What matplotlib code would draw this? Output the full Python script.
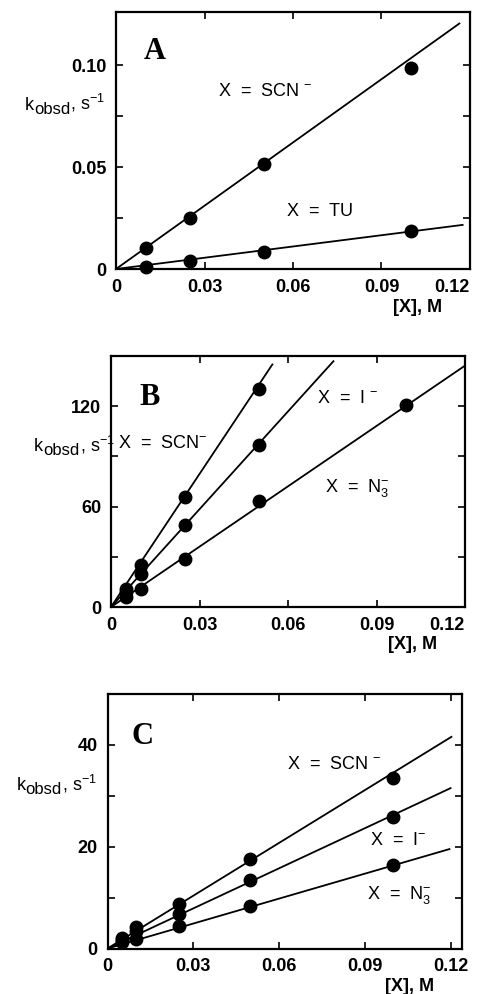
import numpy as np
import matplotlib
matplotlib.use("Agg")
import matplotlib.pyplot as plt

plt.rcParams["font.family"] = ["Liberation Sans", "DejaVu Sans"]
plt.rcParams["mathtext.fontset"] = "custom"
plt.rcParams["mathtext.rm"] = "Liberation Sans"
plt.rcParams["mathtext.it"] = "Liberation Sans"
plt.rcParams["mathtext.bf"] = "Liberation Sans:bold"
plt.rcParams["mathtext.default"] = "rm"

# panel A: SCN- and thiourea
xA = [0.01, 0.025, 0.05, 0.10]
scnA = [0.0104, 0.0248, 0.0516, 0.0987]
tuA = [0.0011, 0.0039, 0.0085, 0.0186]
fitA = {"scn": (1.034, 0.1164), "tu": (0.184, 0.1175)}   # slope, end of line

# panel B
xB = [0.005, 0.01, 0.025, 0.05]
scnB = [11, 25, 66, 130]
iB = [9, 20, 49, 97]
xB_n3 = [0.005, 0.01, 0.025, 0.05, 0.10]
n3B = [6, 11, 28.5, 63.5, 120.5]
fitB = {"scn": (2650, 0.0547), "i": (1948, 0.0754), "n3": (1202, 0.121)}

# panel C
xC = [0.005, 0.01, 0.025, 0.05, 0.10]
scnC = [2.1, 4.3, 8.8, 17.6, 33.4]
iC = [1.7, 3.4, 6.7, 13.4, 25.8]
n3C = [1.2, 1.8, 4.5, 8.4, 16.4]
fitC = {"scn": (345, 0.1203), "i": (262, 0.120), "n3": (163, 0.1196)}

xticks = [0, 0.03, 0.06, 0.09, 0.12]
xticklabels = ["0", "0.03", "0.06", "0.09", "0.12"]

fig = plt.figure(figsize=(4.79, 9.94), dpi=100)
W, H = 479, 994
renderer = fig.canvas.get_renderer()


def make_ax(left, right, top, bottom):
    return fig.add_axes([left / W, 1 - bottom / H, (right - left) / W, (bottom - top) / H])


def kobsd_label(ax, x, y):
    # k + lowered "obsd" (almost full size) + ", s^-1", right aligned at x
    tail = ax.annotate(r", s$^{-1}$", xy=(x, y), xycoords="axes fraction",
                       fontsize=13, ha="right", va="baseline")
    w1 = tail.get_window_extent(renderer).width
    sub = ax.annotate("obsd", xy=(x, y), xycoords="axes fraction",
                      xytext=(-w1, -4), textcoords="offset pixels",
                      fontsize=12, ha="right", va="baseline")
    w2 = sub.get_window_extent(renderer).width
    ax.annotate("k", xy=(x, y), xycoords="axes fraction",
                xytext=(-w1 - w2, 0), textcoords="offset pixels",
                fontsize=13, ha="right", va="baseline")


def style(ax, xmax, ymax, yticks, yticklabels, letter, letter_pos, ylab_x, last_right):
    ax.set_xlim(0, xmax)
    ax.set_ylim(0, ymax)
    ax.set_xticks(xticks)
    ax.set_xticklabels(xticklabels)
    ax.set_yticks(yticks)
    ax.set_yticklabels(yticklabels)
    ax.tick_params(direction="in", top=True, right=True, length=5, width=1.2,
                   labelsize=13, pad=7)
    for lab in ax.get_xticklabels() + ax.get_yticklabels():
        lab.set_fontweight("bold")
    if last_right:
        ax.get_xticklabels()[-1].set_ha("right")
    for sp in ax.spines.values():
        sp.set_linewidth(1.6)
    ax.text(letter_pos[0], letter_pos[1], letter, transform=ax.transAxes,
            family="Liberation Serif", fontweight="bold", fontsize=22,
            ha="center", va="center")
    kobsd_label(ax, ylab_x, 0.62)
    ax.text(0.92, -0.15, "[X], M", transform=ax.transAxes, fontsize=13,
            fontweight="bold", ha="right", va="center")


def fit_line(ax, slope, xend):
    ax.plot([0, xend], [0, slope * xend], color="black", lw=1.3)


def curve_label(ax, x, y, s):
    ax.text(x, y, s, transform=ax.transAxes, fontsize=13, va="center")


mk = dict(marker="o", ls="none", color="black", ms=9, clip_on=False, zorder=3)

# ---- A ----
axA = make_ax(116, 470, 12, 269)
fit_line(axA, *fitA["scn"])
fit_line(axA, *fitA["tu"])
axA.plot(xA, scnA, **mk)
axA.plot(xA, tuA, **mk)
style(axA, 0.12, 0.126, [0, 0.025, 0.05, 0.075, 0.10],
      ["0", "", "0.05", "", "0.10"], "A", (0.11, 0.848), -0.03, True)
curve_label(axA, 0.288, 0.689, r"X  =  SCN $^{-}$")
curve_label(axA, 0.483, 0.222, "X  =  TU")

# ---- B ----
axB = make_ax(111, 465, 356, 607)
for k in ["scn", "i", "n3"]:
    fit_line(axB, *fitB[k])
axB.plot(xB, scnB, **mk)
axB.plot(xB, iB, **mk)
axB.plot(xB_n3, n3B, **mk)
style(axB, 0.12, 150, [0, 30, 60, 90, 120],
      ["0", "", "60", "", "120"], "B", (0.11, 0.833), 0.01, True)
curve_label(axB, 0.02, 0.653, r"X  =  SCN$^{-}$")
curve_label(axB, 0.582, 0.829, r"X  =  I $^{-}$")
curve_label(axB, 0.605, 0.474, r"X  =  N$_3^{-}$")

# ---- C ----
axC = make_ax(107.5, 462, 693.5, 948.5)
for k in ["scn", "i", "n3"]:
    fit_line(axC, *fitC[k])
axC.plot(xC, scnC, **mk)
axC.plot(xC, iC, **mk)
axC.plot(xC, n3C, **mk)
style(axC, 0.124, 50, [0, 10, 20, 30, 40],
      ["0", "", "20", "", "40"], "C", (0.10, 0.83), -0.03, False)
curve_label(axC, 0.506, 0.72, r"X  =  SCN $^{-}$")
curve_label(axC, 0.74, 0.425, r"X  =  I$^{-}$")
curve_label(axC, 0.732, 0.21, r"X  =  N$_3^{-}$")

fig.savefig("out.png", dpi=100)
